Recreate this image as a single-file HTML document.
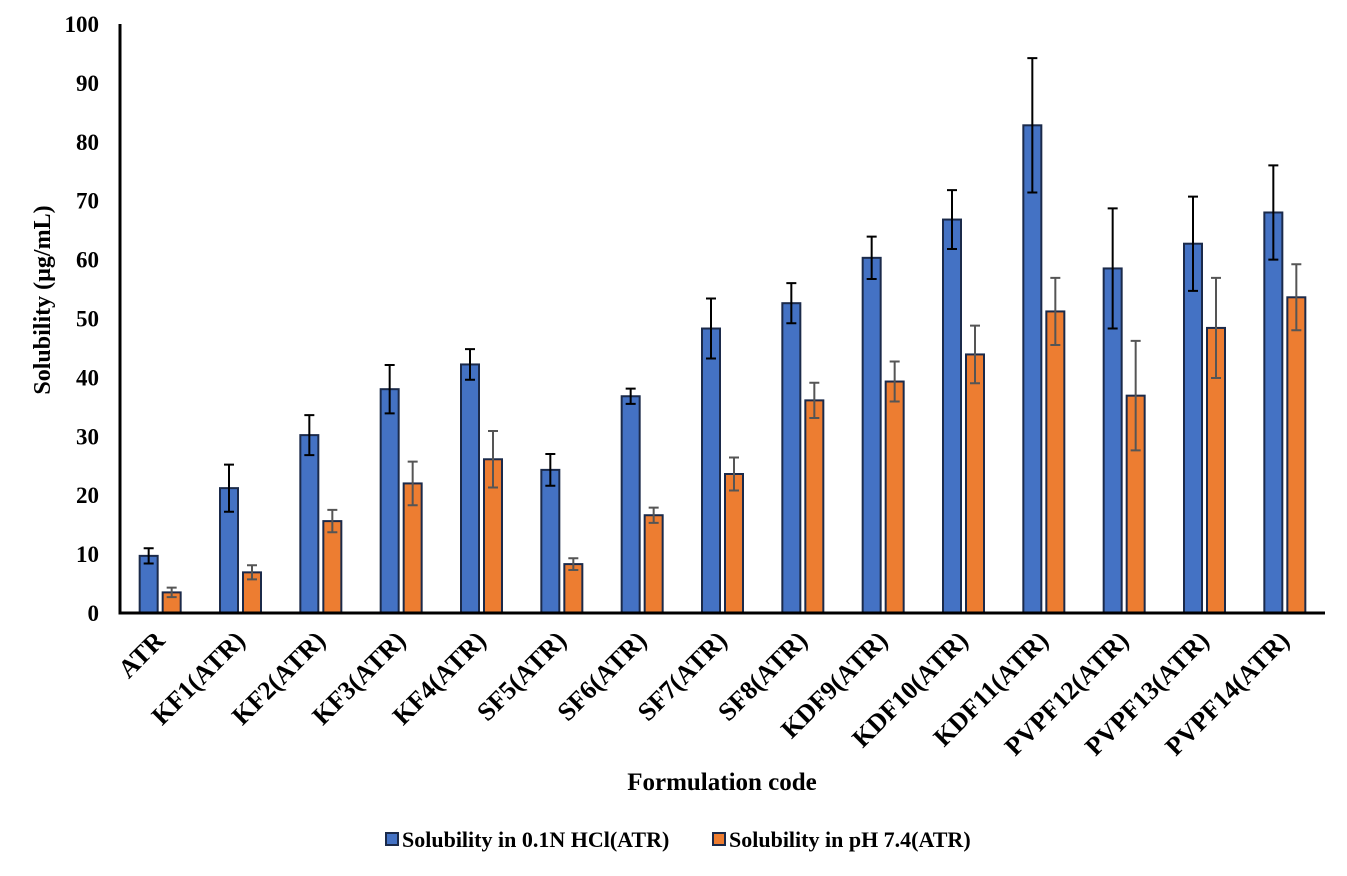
<!DOCTYPE html>
<html><head><meta charset="utf-8"><style>
body{margin:0;background:#fff}
svg text{font-family:"Liberation Serif",serif;font-weight:bold;fill:#000}
</style></head><body>
<svg id="chart" width="1347" height="871" xmlns="http://www.w3.org/2000/svg">
<g id="g"></g>
</svg>
<script>
const categories=["ATR","KF1(ATR)","KF2(ATR)","KF3(ATR)","KF4(ATR)","SF5(ATR)","SF6(ATR)","SF7(ATR)","SF8(ATR)","KDF9(ATR)","KDF10(ATR)","KDF11(ATR)","PVPF12(ATR)","PVPF13(ATR)","PVPF14(ATR)"];
const hclValues=[9.7,21.2,30.2,38,42.2,24.3,36.8,48.3,52.6,60.3,66.8,82.8,58.5,62.7,68];
const hclErrors=[1.3,4,3.4,4.1,2.6,2.7,1.3,5.1,3.4,3.6,5,11.4,10.2,8,8];
const phValues=[3.5,6.9,15.6,22,26.1,8.3,16.6,23.6,36.1,39.3,43.9,51.2,36.9,48.4,53.6];
const phErrors=[0.8,1.2,1.9,3.7,4.8,1,1.3,2.8,3,3.4,4.9,5.7,9.3,8.5,5.6];
const yTicks=[0,10,20,30,40,50,60,70,80,90,100];
const NS="http://www.w3.org/2000/svg";
const g=document.getElementById('g');
const x0=120,x1=1325,y0=613,y1=24;
const bw=(x1-x0)/categories.length;
const yS=v=>y0-(v/100)*(y0-y1);
const xC=i=>x0+bw*(i+0.5);
function mk(t,a,txt){const e=document.createElementNS(NS,t);for(const k in a)e.setAttribute(k,a[k]);if(txt!==undefined)e.textContent=txt;g.appendChild(e);return e;}
yTicks.forEach(v=>{const t=mk('text',{x:99,y:yS(v)+8,'text-anchor':'end','font-size':23},String(v));

});
function series(vals,errs,fill,off,ecol,name){
vals.forEach((v,i)=>{const cx=xC(i)+off;
const r=mk('rect',{x:cx-9,y:yS(v),width:18,height:yS(0)-yS(v),fill:fill,stroke:'#1b2a4a','stroke-width':2});


const e=errs[i];const p=mk('path',{d:`M${cx},${yS(v+e)}V${yS(v-e)}M${cx-5},${yS(v+e)}H${cx+5}M${cx-5},${yS(v-e)}H${cx+5}`,stroke:ecol,'stroke-width':2,fill:'none'});

});}
series(hclValues,hclErrors,'#4472c4',-11.5,'#000','hcl');
series(phValues,phErrors,'#ed7d31',11.5,'#555','ph');
const ax=mk('path',{d:`M${x0},${y1}V${y0}H${x1}`,stroke:'#000','stroke-width':3,fill:'none'});


categories.forEach((c,i)=>{const x=xC(i)+6,y=642;
const t=mk('text',{x:x,y:y,'text-anchor':'end','font-size':26,transform:`rotate(-45 ${x} ${y})`},c);

});
const yt=mk('text',{x:50,y:300,'text-anchor':'middle','font-size':24,transform:'rotate(-90 50 300)'},'Solubility (µg/mL)');


const xt=mk('text',{x:722,y:790,'text-anchor':'middle','font-size':25},'Formulation code');


const l1=mk('rect',{x:386,y:833,width:12,height:12,fill:'#4472c4',stroke:'#1b2a4a','stroke-width':2});


const lt1=mk('text',{x:402,y:847,'font-size':22},'Solubility in 0.1N HCl(ATR)');


const l2=mk('rect',{x:713,y:833,width:12,height:12,fill:'#ed7d31',stroke:'#1b2a4a','stroke-width':2});


const lt2=mk('text',{x:729,y:847,'font-size':22},'Solubility in pH 7.4(ATR)');


</script>
</body></html>
